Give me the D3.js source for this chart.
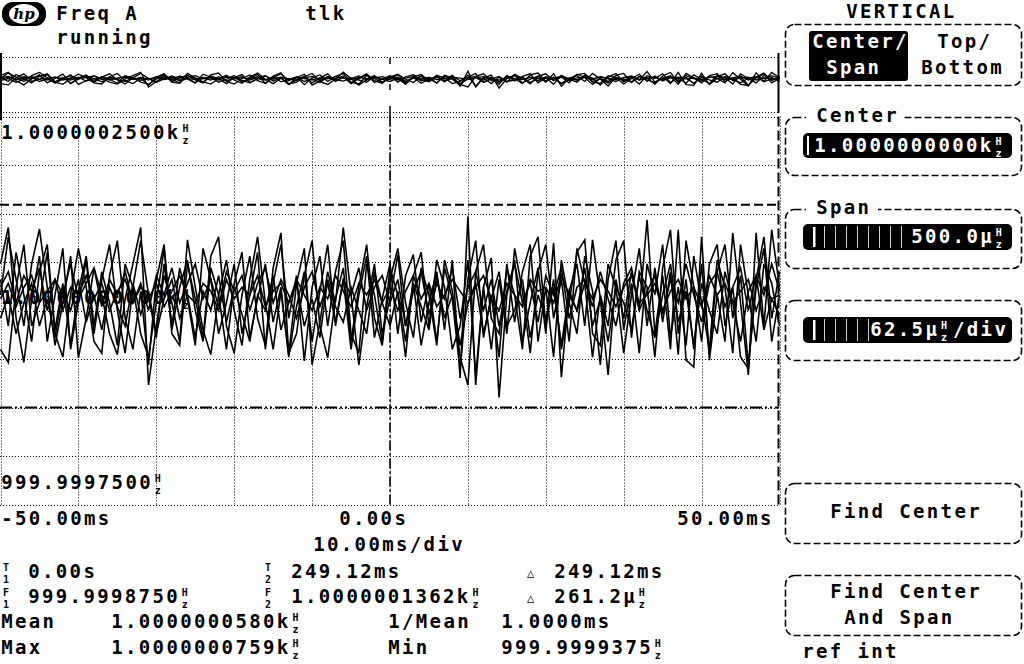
<!DOCTYPE html>
<html><head><meta charset="utf-8">
<script src="https://cdn.jsdelivr.net/npm/d3@7"></script>
<style>
html,body{margin:0;padding:0;background:#fff;overflow:hidden}
svg{display:block}
text{font-family:"DejaVu Sans Mono",monospace;font-weight:bold;}
</style></head><body>
<svg id="c" width="1024" height="664"></svg>
<script>
// ---------------- data ----------------
// time axis (ms) and frequency deviation axis (µHz from 1 kHz)
const timeTicks = [-50,-40,-30,-20,-10,0,10,20,30,40,50];
const freqTicks = [-250,-187.5,-125,-62.5,0,62.5,125,187.5,250];
const xTickLabels = ["-50.00ms","0.00s","50.00ms"];
const xTickValues = [-50,0,50];
const yTopLabel = "1.0000002500k^Hz";
const yBottomLabel = "999.9997500^Hz";
const centerLabel = "1.0000000000k^Hz";
const timebaseLabel = "10.00ms/div";
const markerT1 = 0, markerT2 = 249.12;      // ms
const markerF1 = -125.0, markerF2 = 136.2;  // µHz deviation

// sampled traces, deviation in µHz, one sample per ms from -50 to +50 ms
const trace1 = [20,95,40,-20,60,105,30,-45,10,70,-61,-10,55,20,-30,-57,15,60,107,-96,-20,45,10,-40,91,30,-25,-57,20,65,0,-45,40,95,10,-50,25,-57,35,80,-70,-15,50,10,107,20,-70,5,60,-30,15,72,-20,35,-45,10,50,-25,65,-87,121,-96,30,68,-112,20,65,-40,10,55,-30,87,-86,25,60,-20,91,15,-83,40,-10,50,0,117,-30,45,-50,104,-64,-73,95,-64,20,-40,100,10,-83,100,-20,104,30];
const trace2 = [-50,-67,30,85,-20,10,75,-30,-60,20,80,30,-40,-55,45,90,-10,-50,25,-70,40,85,-30,-45,60,15,-35,70,95,-20,-55,20,70,-10,-45,55,100,-55,-30,45,90,-20,-61,15,55,-40,30,85,-10,-45,40,80,10,-35,55,20,-45,65,25,-60,-96,50,85,-10,-30,55,20,-50,70,95,-20,40,-50,10,75,91,-30,-45,60,30,-55,20,80,-20,55,-15,50,-57,90,30,-40,60,85,-20,30,-60,-75,40,95,-10,50];
const trace3 = [60,107,-10,-67,15,70,-40,20,80,-50,10,65,-30,40,85,0,-55,30,90,20,-35,60,-20,55,15,-45,80,40,-30,10,60,-30,20,75,-50,35,85,-10,45,-65,30,70,-20,50,90,-30,-55,60,20,-40,55,20,-60,45,75,-20,65,30,-50,-20,65,-85,30,-50,40,-30,80,25,-55,50,85,-10,40,-40,80,35,-60,20,-20,65,90,-35,50,30,-60,55,104,-30,40,-50,60,-57,50,85,-10,45,-70,30,80,-40,20];
const trace4 = [30,50,10,45,25,55,0,40,20,60,15,35,55,5,40,20,50,10,35,0,45,20,55,10,35,60,15,40,5,50,25,45,0,35,55,10,40,20,-10,30,50,5,35,-15,40,20,55,0,30,45,10,40,-20,25,50,-5,35,15,55,-10,30,50,0,40,-20,25,60,10,35,-15,45,20,55,-10,30,40,5,50,15,-20,35,55,0,25,45,-5,40,10,60,20,-15,35,50,5,30,55,0,45,20,60,25];
const trace5 = [-10,20,-30,10,35,-20,15,-35,25,0,40,-15,20,-25,30,5,-20,35,-5,25,-30,15,40,-10,20,-35,25,0,45,-15,30,-5,-40,20,0,45,-25,10,35,-20,15,-35,40,5,-15,30,0,-30,50,10,-20,25,-40,35,5,-25,45,-10,20,-45,10,35,-30,15,50,-20,0,40,-35,20,-10,30,-45,25,0,55,-20,15,-40,30,10,-25,45,0,-35,20,60,-15,25,-45,35,0,-30,50,10,-40,25,45,-25,15,-5];
const trace6 = [40,-20,75,20,-40,50,85,-25,35,-45,25,70,-20,50,10,-45,60,30,-30,-60,10,80,-25,30,65,0,-40,55,20,-50,35,75,-35,15,60,-15,30,-60,5,50,-40,25,85,-20,40,-50,20,70,-35,15,60,-30,45,72,-15,35,-40,55,15,-78,40,90,-35,20,-60,60,-15,50,85,-40,30,-60,65,10,-30,70,25,-70,40,90,-25,35,-55,60,20,85,-35,30,-45,70,10,-50,65,30,-55,85,20,-40,60,35,-20];
const trace7 = [15,35,5,30,45,10,25,40,0,30,20,45,15,35,0,25,40,10,30,15,35,5,25,45,20,10,35,25,0,40,15,30,20,45,5,25,35,10,40,20,0,30,15,45,25,5,35,20,40,10,30,0,25,45,15,35,5,20,40,25,10,30,45,15,0,35,20,5,40,25,30,10,45,20,0,35,15,40,25,5,30,45,10,20,35,0,25,40,15,30,5,45,20,35,10,25,40,0,30,15,20];
const traces = [trace1, trace2, trace3, trace4, trace5, trace6, trace7];

// readouts
const readoutRows = [
  [{x:0,s:"^T1"},{x:27,s:"0.00s"},{x:262,s:"^T2"},{x:290,s:"249.12ms"},{x:527,s:"~"},{x:553,s:"249.12ms"}],
  [{x:0,s:"^F1"},{x:27,s:"999.9998750^Hz"},{x:262,s:"^F2"},{x:290,s:"1.0000001362k^Hz"},{x:527,s:"~"},{x:553,s:"261.2µ^Hz"}],
  [{x:0,s:"Mean"},{x:110,s:"1.0000000580k^Hz"},{x:387,s:"1/Mean"},{x:500,s:"1.0000ms"}],
  [{x:0,s:"Max"},{x:110,s:"1.0000000759k^Hz"},{x:387,s:"Min"},{x:500,s:"999.9999375^Hz"}]
];
const readoutBaselines = [578, 603, 628, 654];

// ---------------- drawing ----------------
const svg = d3.select("#c");
const CW = 13.8, FS = 19;

// one <text> per label; stacked glyphs (^ab) and the small delta (~) are tspans
function label(g, x, y, s, opt) {
  opt = opt || {};
  const fill = opt.fill || "#000";
  const cells = [];
  for (let i = 0; i < s.length; i++) {
    if (s[i] === "^") { cells.push([s[i+1], s[i+2]]); i += 2; }
    else cells.push(s[i]);
  }
  const off = (CW - 0.602 * FS) / 2;
  const t = g.append("text").attr("fill", fill).attr("font-size", FS);
  let run = null;
  cells.forEach((c, k) => {
    const cx = x + k * CW;
    if (Array.isArray(c)) {
      run = null;
      t.append("tspan").attr("x", cx + 3).attr("y", y - 7).attr("font-size", 10).text(c[0]);
      t.append("tspan").attr("x", cx + 3).attr("y", y + 4.9).attr("font-size", 10).text(c[1]);
    } else if (c === "~") {
      run = null;
      t.append("tspan").attr("x", cx).attr("y", y - 1).attr("font-size", 12).text("△");
    } else if (c === " ") {
      run = null;
    } else {
      if (!run) { run = {xs: [], ch: [], el: t.append("tspan").attr("y", y)}; }
      run.xs.push((cx + off).toFixed(1)); run.ch.push(c);
      run.el.attr("x", run.xs.join(" ")).text(run.ch.join(""));
    }
  });
}

const x = d3.scaleLinear().domain([-50, 50]).range([0.5, 779.5]).clamp(true);
const y = d3.scaleLinear().domain([-250, 250]).range([504.5, 116.5]);
const yo = d3.scaleLinear().domain([-330, 330]).range([104, 56]);
const times = d3.range(-50, 51, 1);

// header
const hdr = svg.append("g");
hdr.append("rect").attr("x",2).attr("y",2).attr("width",44).attr("height",24).attr("rx",11).attr("fill","#000");
hdr.append("ellipse").attr("cx",24).attr("cy",14).attr("rx",15).attr("ry",10).attr("fill","#fff");
hdr.append("text").attr("x",24).attr("y",19).attr("text-anchor","middle").attr("font-size",15)
  .attr("font-style","italic").style("font-family","'DejaVu Serif',serif").text("hp");
label(hdr, 55, 20, "Freq A");
label(hdr, 55, 44, "running");
label(hdr, 304, 20, "tlk");

// overview strip
const ov = svg.append("g");
[57.5, 112.5].forEach(yy => ov.append("line").attr("x1",0).attr("x2",779).attr("y1",yy).attr("y2",yy)
  .attr("stroke","#000").attr("stroke-dasharray","1,2"));
ov.append("line").attr("x1",1).attr("x2",1).attr("y1",53).attr("y2",120).attr("stroke","#000").attr("stroke-width",2);
ov.append("line").attr("x1",778.5).attr("x2",778.5).attr("y1",53).attr("y2",113).attr("stroke","#000").attr("stroke-width",2);
[[58,64],[84,90],[106,117]].forEach(s => ov.append("line").attr("x1",x(markerT1)).attr("x2",x(markerT1))
  .attr("y1",s[0]).attr("y2",s[1]).attr("stroke","#000").attr("stroke-width",1.5));
const lineO = d3.line().x((d,i)=>x(times[i])).y(d=>yo(d));
traces.forEach(t => ov.append("path").attr("d", lineO(t)).attr("fill","none").attr("stroke","#000").attr("stroke-width",1.3));

// main grid
const grid = svg.append("g");
timeTicks.forEach(t => grid.append("line").attr("x1",Math.round(x(t))+0.5).attr("x2",Math.round(x(t))+0.5)
  .attr("y1",y(250)).attr("y2",y(-250)).attr("stroke","#000").attr("stroke-dasharray","1,2"));
freqTicks.forEach(v => grid.append("line").attr("x1",0).attr("x2",779).attr("y1",Math.round(y(v))+0.5).attr("y2",Math.round(y(v))+0.5)
  .attr("stroke","#000").attr("stroke-dasharray","1,2"));

// markers
grid.append("line").attr("x1",0).attr("x2",779).attr("y1",y(markerF2)).attr("y2",y(markerF2))
  .attr("stroke","#000").attr("stroke-width",2).attr("stroke-dasharray","9,4");
grid.append("line").attr("x1",0).attr("x2",779).attr("y1",y(markerF1)).attr("y2",y(markerF1))
  .attr("stroke","#000").attr("stroke-width",2).attr("stroke-dasharray","12,3,2,3,2,3");
grid.append("line").attr("x1",x(markerT1)).attr("x2",x(markerT1)).attr("y1",y(250)).attr("y2",y(-250))
  .attr("stroke","#000").attr("stroke-width",1.6).attr("stroke-dasharray","10,3,2,3");
grid.append("line").attr("x1",x(markerT2)-1).attr("x2",x(markerT2)-1).attr("y1",y(250)).attr("y2",y(-250))
  .attr("stroke","#000").attr("stroke-width",2).attr("stroke-dasharray","10,4");

// centre label under traces
const lab = svg.append("g");
label(lab, 0, 304, centerLabel);

// traces
svg.append("clipPath").attr("id","pc").append("rect").attr("x",0).attr("y",y(250)).attr("width",780).attr("height",y(-250)-y(250));
const line = d3.line().x((d,i)=>x(times[i])).y(d=>y(d));
const tg = svg.append("g").attr("clip-path","url(#pc)");
traces.forEach(t => tg.append("path").attr("d", line(t)).attr("fill","none").attr("stroke","#000").attr("stroke-width",1.6));

// axis labels
const lab2 = svg.append("g");
label(lab2, 0, 139, yTopLabel);
label(lab2, 0, 489, yBottomLabel);
const xlX = [0, 338, 676];
xTickLabels.forEach((s,i) => label(lab2, xlX[i], 525, s));
label(lab2, 312, 551, timebaseLabel);

// readouts
readoutRows.forEach((row, r) => row.forEach(c => label(lab2, c.x, readoutBaselines[r], c.s)));

// right panel
const rp = svg.append("g");
function box(y0, y1) {
  rp.append("rect").attr("x",785.5).attr("y",y0+0.5).attr("width",236).attr("height",y1-y0).attr("rx",9)
    .attr("fill","none").attr("stroke","#000").attr("stroke-width",1.6).attr("stroke-dasharray","7,3");
}
label(rp, 845, 18, "VERTICAL");
box(24, 85);
rp.append("rect").attr("x",809).attr("y",31).attr("width",99).attr("height",50).attr("rx",3).attr("fill","#000");
label(rp, 811, 48, "Center/", {fill:"#fff"});
label(rp, 825, 74, "Span", {fill:"#fff"});
label(rp, 936, 48, "Top/");
label(rp, 920, 74, "Bottom");

box(117, 175);
rp.append("rect").attr("x",806).attr("y",110).attr("width",98).attr("height",14).attr("fill","#fff");
label(rp, 815, 122, "Center");
rp.append("rect").attr("x",803).attr("y",133).attr("width",209).attr("height",25).attr("rx",5).attr("fill","#000");
rp.append("rect").attr("x",807).attr("y",136).attr("width",2).attr("height",19).attr("fill","#fff");
label(rp, 813, 152, centerLabel, {fill:"#fff"});

box(209, 268);
rp.append("rect").attr("x",806).attr("y",202).attr("width",72).attr("height",14).attr("fill","#fff");
label(rp, 815, 214, "Span");
const spanSeps = [824,835,846,857,868,879,890,901];
rp.append("rect").attr("x",803).attr("y",224).attr("width",209).attr("height",26).attr("rx",5).attr("fill","#000");
rp.append("rect").attr("x",813).attr("y",227).attr("width",2.5).attr("height",20).attr("fill","#fff");
spanSeps.forEach(s => rp.append("rect").attr("x",s).attr("y",226).attr("width",1).attr("height",22).attr("fill","#ccc"));
label(rp, 910, 243, "500.0µ^Hz", {fill:"#fff"});

box(300, 360);
rp.append("rect").attr("x",803).attr("y",317).attr("width",209).attr("height",26).attr("rx",5).attr("fill","#000");
rp.append("rect").attr("x",813).attr("y",320).attr("width",2.5).attr("height",20).attr("fill","#fff");
spanSeps.slice(0,5).forEach(s => rp.append("rect").attr("x",s).attr("y",319).attr("width",1).attr("height",22).attr("fill","#ccc"));
label(rp, 869, 336, "62.5µ^Hz/div", {fill:"#fff"});

box(483, 543);
label(rp, 829, 518, "Find Center");
box(575, 635);
label(rp, 829, 598, "Find Center");
label(rp, 843, 624, "And Span");
label(rp, 801, 658, "ref int");
</script>
</body></html>
